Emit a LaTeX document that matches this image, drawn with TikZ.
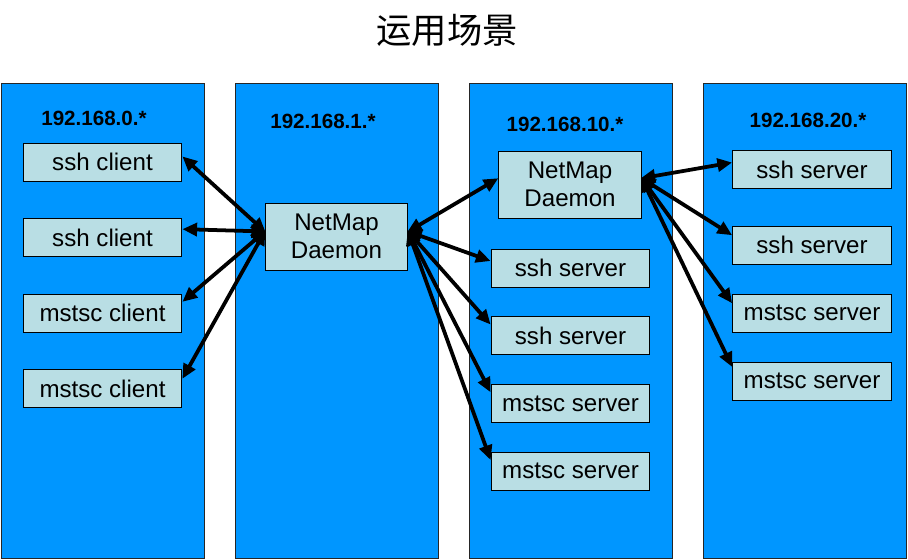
\documentclass[tikz,border=0pt]{standalone}
\usepackage{fontspec}
\setmainfont{Liberation Sans}
\newfontfamily\cjk{Noto Sans CJK SC}
\usetikzlibrary{arrows.meta}

\begin{document}
\begin{tikzpicture}[x=0.85pt, y=-0.85pt]

% Styles
\tikzstyle{net}   = [draw=black!85, line width=0.8pt, fill={rgb,255:red,0;green,150;blue,255}, rectangle, minimum width=172.5pt, minimum height=403.7pt]
\tikzstyle{block} = [draw, line width=0.8pt, fill={rgb,255:red,185;green,222;blue,228}, rectangle, minimum height=32.3pt, minimum width=135pt, font=\fontsize{20.5}{24}\selectfont]
\tikzstyle{daemon}= [block, minimum height=57pt, minimum width=121pt, align=center]
\tikzstyle{subnet}= [font=\fontsize{17.5}{20}\selectfont\bfseries]
\tikzstyle{link}  = [{Triangle[length=12.5pt,width=11pt]}-{Triangle[length=12.5pt,width=11pt]}, line width=3.2pt, shorten <=-1pt]

\useasboundingbox (0,0) rectangle (908,559);

% Title
\node (title) at (447,30) {\cjk\fontsize{30}{34}\selectfont 运用场景};

% Networks
\node [net] (net0)  at (102.5,320.5) {};
\node [net] (net1)  at (337,320.5) {};
\node [net] (net10) at (571,320.5) {};
\node [net] (net20) at (805,320.5) {};

\node [subnet] (lab0)  at (94,118)  {192.168.0.*};
\node [subnet] (lab1)  at (323,121) {192.168.1.*};
\node [subnet] (lab10) at (565,124) {192.168.10.*};
\node [subnet] (lab20) at (808,120) {192.168.20.*};

% Clients
\node [block] (c1) at (102.5,162) {ssh client};
\node [block, below of=c1, node distance=64.2pt] (c2) {ssh client};
\node [block, below of=c2, node distance=64.2pt] (m1) {mstsc client};
\node [block, below of=m1, node distance=64.2pt] (m2) {mstsc client};

% Daemons
\node [daemon] (d1) at (336.5,236.5) {NetMap\\Daemon};
\node [daemon] (d2) at (570,184.5) {NetMap\\Daemon};

% Servers (192.168.10.*)
\node [block] (s1) at (570.5,268) {ssh server};
\node [block, below of=s1, node distance=57.6pt] (s2) {ssh server};
\node [block, below of=s2, node distance=57.6pt] (s3) {mstsc server};
\node [block, below of=s3, node distance=57.6pt] (s4) {mstsc server};

% Servers (192.168.20.*)
\node [block] (t1) at (812,169.5) {ssh server};
\node [block, below of=t1, node distance=64.2pt] (t2) {ssh server};
\node [block, below of=t2, node distance=57.8pt] (t3) {mstsc server};
\node [block, below of=t3, node distance=57.8pt] (t4) {mstsc server};

% Connections
\draw [link] (d1.176) -- (c1.4);
\draw [link] (d1.176) -- (c2.6);
\draw [link] (d1.176) -- (m1.8);
\draw [link] (d1.176) -- (m2.7);

\draw [link] (d1.4) -- (d2.175);
\draw [link] (d1.4) -- (s1.175);
\draw [link] (d1.4) -- (s2.172);
\draw [link] (d1.4) -- (s3.172);
\draw [link] (d1.4) -- (s4.172);

\draw [link] (d2.5) -- (t1.175);
\draw [link] (d2.5) -- (t2.173);
\draw [link] (d2.5) -- (t3.173);
\draw [link] (d2.5) -- (t4.170);

\end{tikzpicture}
\end{document}
